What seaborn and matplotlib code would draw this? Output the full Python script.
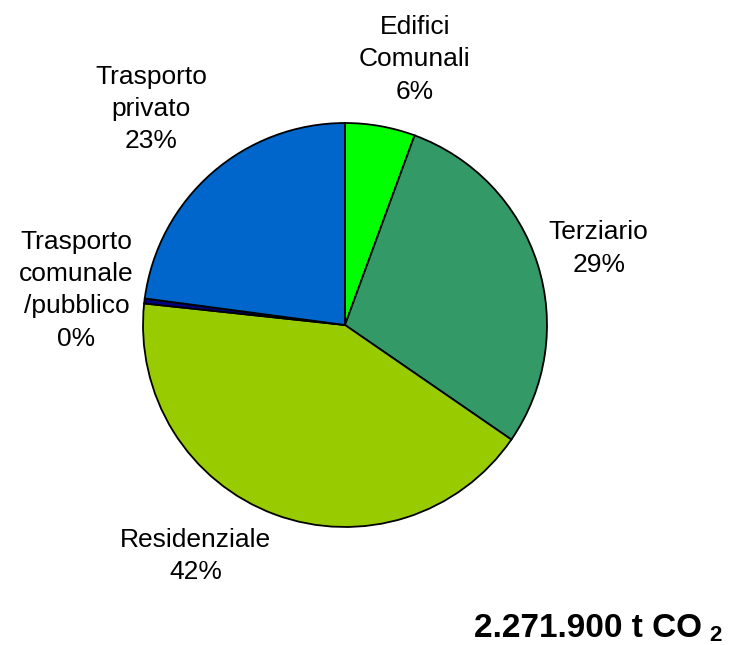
import matplotlib
matplotlib.use('Agg')
import matplotlib.pyplot as plt
import seaborn as sns

sns.set_style('white')
plt.rcParams['font.family'] = ['Liberation Sans', 'DejaVu Sans']

# Data
categories = ['Edifici\nComunali', 'Terziario', 'Residenziale',
              'Trasporto\ncomunale\n/pubblico', 'Trasporto\nprivato']
shares = [5.6, 29.0, 42.1, 0.4, 22.9]
pct_labels = ['6%', '29%', '42%', '0%', '23%']
colors = ['#00FF00', '#339966', '#99CC00', '#000080', '#0066CC']

# label centres in pie units (radius = 1)
label_pos = [(0.345, 1.315), (1.256, 0.379), (-0.739, -1.143),
             (-1.33, 0.172), (-0.96, 1.069)]

fig = plt.figure(figsize=(7.32, 6.45), dpi=100)
ax = fig.add_axes([142 / 732, 117 / 645, 406 / 732, 406 / 645])

labels = [c + '\n' + p for c, p in zip(categories, pct_labels)]
wedges, texts = ax.pie(shares, colors=colors, startangle=90, counterclock=False,
                       labels=labels, labeldistance=1.2,
                       wedgeprops=dict(edgecolor='black', linewidth=1.3))
for t, (x, y) in zip(texts, label_pos):
    t.set_position((x, y))
    t.set_ha('center')
    t.set_va('center')
    t.set_fontsize(19)
    t.set_color('black')
    t.set_linespacing(1.43)

ax.set_xlim(-1.005, 1.005)
ax.set_ylim(-1.005, 1.005)
ax.set_aspect('equal')

fig.text(702 / 732, 1 - 637 / 645, '2.271.900 t CO', ha='right', va='baseline',
         fontsize=24, fontweight='bold', color='black')
fig.text(709 / 732, 1 - 641 / 645, '2', ha='left', va='baseline',
         fontsize=16, fontweight='bold', color='black')

fig.savefig('out.png', dpi=100)
